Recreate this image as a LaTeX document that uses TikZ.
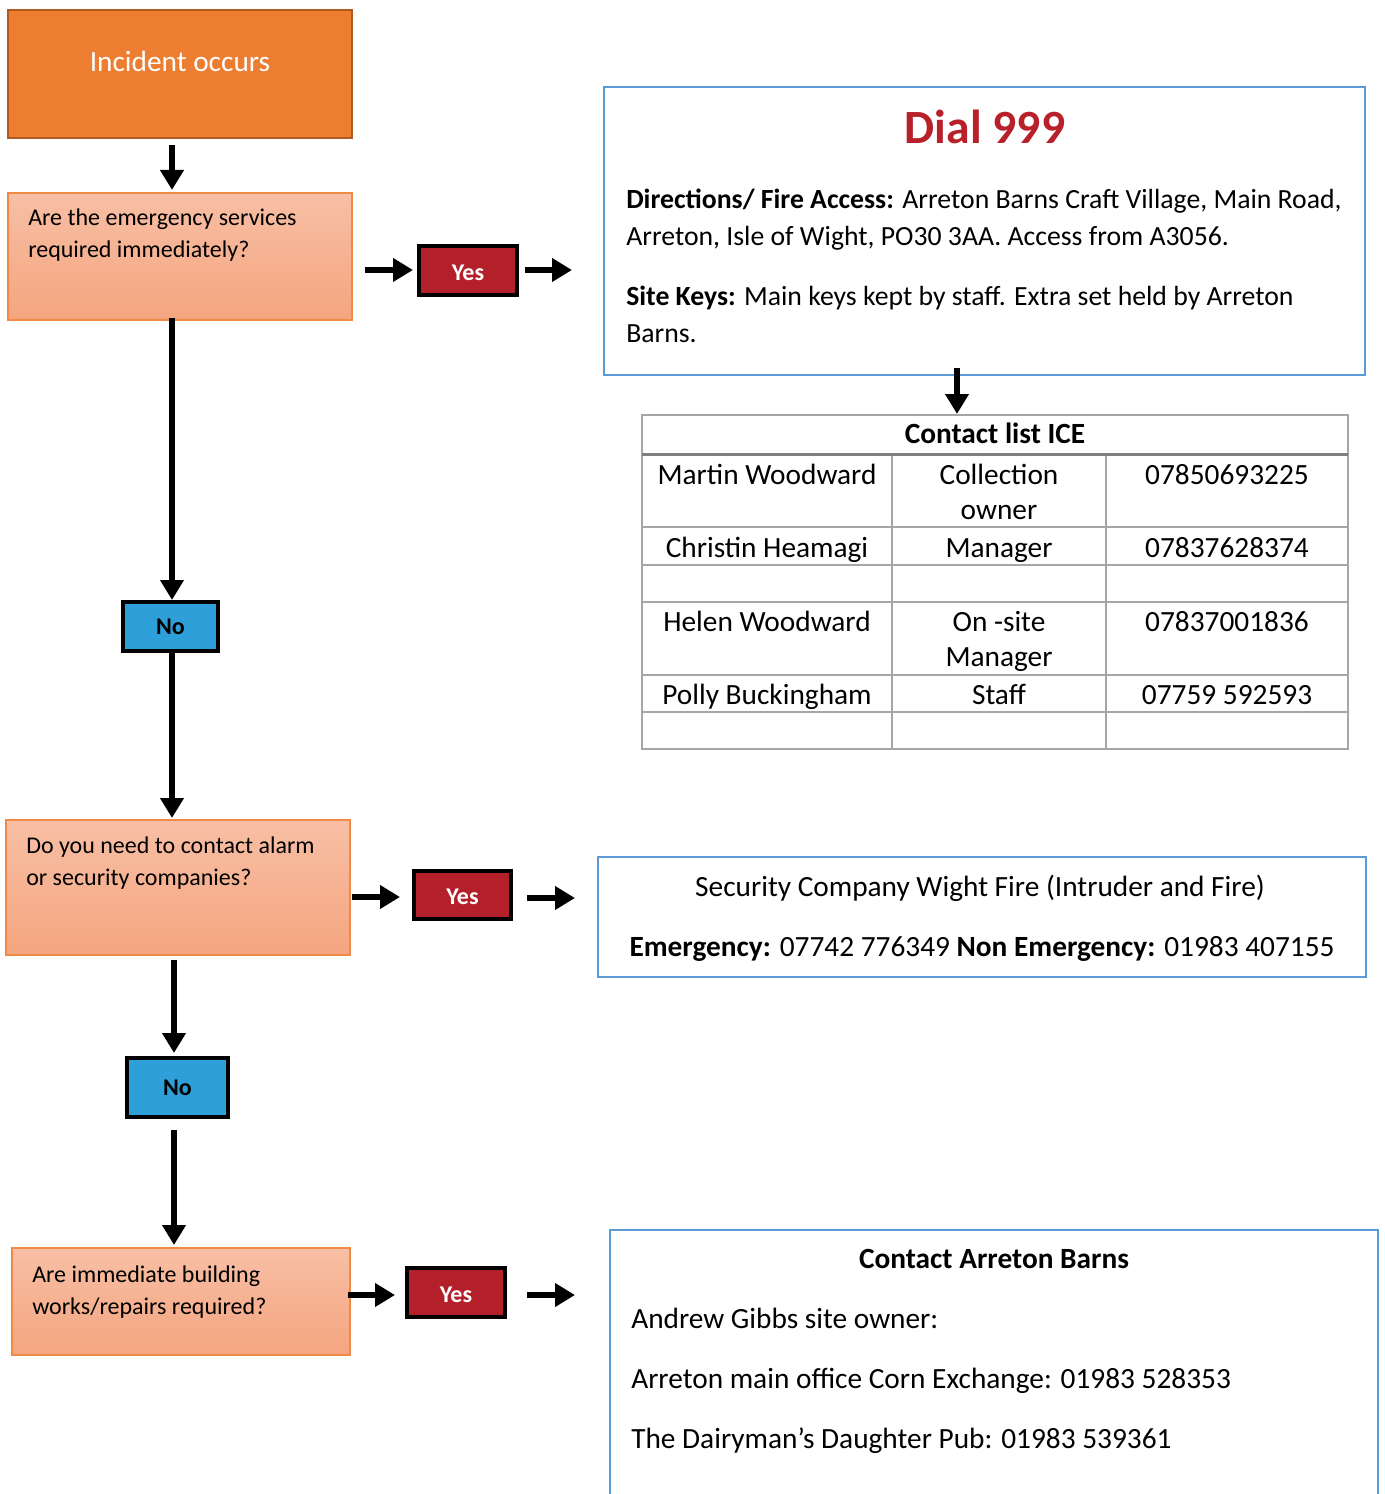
\documentclass[tikz,border=0pt]{standalone}
\usepackage{fontspec}
\setmainfont{Carlito}
\usetikzlibrary{arrows.meta,fit,calc}
\definecolor{incfill}{HTML}{ED7D31}
\definecolor{incdraw}{HTML}{AE5A21}
\definecolor{qtop}{HTML}{F8BFA5}
\definecolor{qbot}{HTML}{F4A57F}
\definecolor{qdraw}{HTML}{F08A46}
\definecolor{yesred}{HTML}{B4202A}
\definecolor{noblue}{HTML}{2E9FD9}
\definecolor{infoblue}{HTML}{5B9BD5}
\definecolor{dialred}{HTML}{B8202A}
\definecolor{tabgray}{HTML}{A6A6A6}
\definecolor{tabdark}{HTML}{7F7F7F}
\begin{document}
\begin{tikzpicture}[x=0.75pt,y=-0.75pt,
  box/.style={inner sep=0pt, outer sep=0pt},
  incbox/.style={box, fill=incfill, draw=incdraw, line width=1.5pt},
  qbox/.style={box, top color=qtop, bottom color=qbot, draw=qdraw, line width=0.8pt},
  yesbox/.style={box, fill=yesred, draw=black, line width=2.3pt},
  nobox/.style={box, fill=noblue, draw=black, line width=2.3pt},
  infobox/.style={box, draw=infoblue, line width=1.6pt},
  qtext/.style={inner sep=0pt, anchor=base west, align=left, font=\fontsize{18pt}{24pt}\selectfont},
  dtext/.style={inner sep=0pt, anchor=base west, align=left, font=\fontsize{20.8pt}{27.75pt}\selectfont},
  ttext/.style={inner sep=0pt, anchor=base, align=center, font=\fontsize{22pt}{26.25pt}\selectfont},
  ctext/.style={inner sep=0pt, anchor=base west, font=\fontsize{22pt}{26pt}\selectfont},
  yntext/.style={font=\bfseries\fontsize{18pt}{22pt}\selectfont},
  arr/.style={line width=5pt, -{Triangle[width=17pt,length=15pt]}},
  tline/.style={draw=tabgray, line width=1.5pt}
]
\useasboundingbox (0,0) rectangle (1384,1494);

% --- left column boxes
\node[incbox, fit={(8,10) (352,138)}] (inc) {};
\node[inner sep=0pt, anchor=base, text=white, font=\fontsize{22pt}{26pt}\selectfont] (inct) at (180,72) {Incident occurs};

\node[qbox, fit={(8,193) (352,320)}] (q1) {};
\node[qtext] (q1t) at (28,258) {Are the emergency services\\required immediately?};

\node[nobox, fit={(123,602) (218,651)}] (no1) {};
\node[yntext] (no1t) at (no1.center) {No};

\node[qbox, fit={(6,820) (350,955)}] (q2) {};
\node[qtext] (q2t) at (26,885) {Do you need to contact alarm\\or security companies?};

\node[nobox, fit={(127,1058) (228,1117)}] (no2) {};
\node[yntext] (no2t) at (no2.center) {No};

\node[qbox, fit={(12,1248) (350,1355)}] (q3) {};
\node[qtext] (q3t) at (32,1314) {Are immediate building\\works/repairs required?};

% --- yes boxes
\node[yesbox, fit={(419,246) (517,295)}] (yes1) {};
\node[yntext, text=white] (yes1t) at ($(yes1.center)+(0,2)$) {Yes};
\node[yesbox, fit={(414,871) (511,919)}] (yes2) {};
\node[yntext, text=white] (yes2t) at ($(yes2.center)+(0,2)$) {Yes};
\node[yesbox, fit={(407,1268) (505,1317)}] (yes3) {};
\node[yntext, text=white] (yes3t) at ($(yes3.center)+(0,2)$) {Yes};

% --- Dial 999 box
\node[infobox, fit={(604,87) (1365,375)}] (dial) {};
\node[inner sep=0pt, anchor=base, text=dialred, font=\bfseries\fontsize{35.8pt}{42pt}\selectfont] (dialt) at (985,144) {Dial 999};
\node[dtext] (dir) at (626,246) {\textbf{Directions/ Fire Access:} Arreton Barns Craft Village, Main Road,\\Arreton, Isle of Wight, PO30 3AA. Access from A3056.};
\node[dtext] (keys) at (626,342) {\textbf{Site Keys:} Main keys kept by staff. Extra set held by Arreton\\Barns.};

% --- table
\node[box, fit={(642,415) (1348,749)}] (tab) {};
\draw[tline] (642,415) rectangle (1348,749);
\draw[draw=tabdark, line width=2.6pt] (642,454.5) -- (1348,454.5);
\foreach \yy in {527,565,602,675,712} \draw[tline] (642,\yy) -- (1348,\yy);
\foreach \xx in {892,1106} \draw[tline] (\xx,456) -- (\xx,749);
\node[ttext, font=\bfseries\fontsize{22pt}{26pt}\selectfont] (th) at (995,443) {Contact list ICE};
\node[ttext] (r1a) at (767,484) {Martin Woodward};
\node[ttext] (r1b) at (999,519) {Collection\\owner};
\node[ttext] (r1c) at (1227,484) {07850693225};
\node[ttext] (r2a) at (767,557) {Christin Heamagi};
\node[ttext] (r2b) at (999,557) {Manager};
\node[ttext] (r2c) at (1227,557) {07837628374};
\node[ttext] (r4a) at (767,631) {Helen Woodward};
\node[ttext] (r4b) at (999,666) {On -site\\Manager};
\node[ttext] (r4c) at (1227,631) {07837001836};
\node[ttext] (r5a) at (767,704) {Polly Buckingham};
\node[ttext] (r5b) at (999,704) {Staff};
\node[ttext] (r5c) at (1227,704) {07759 592593};

% --- security box
\node[infobox, fit={(598,857) (1366,977)}] (sec) {};
\node[inner sep=0pt, anchor=base, font=\fontsize{22pt}{26pt}\selectfont] (sect) at (980,896) {Security Company Wight Fire (Intruder and Fire)};
\node[inner sep=0pt, anchor=base, font=\fontsize{22pt}{26pt}\selectfont] (secn) at (982,956) {\textbf{Emergency:} 07742 776349 \textbf{Non Emergency:} 01983 407155};

% --- contact Arreton box
\node[infobox, fit={(610,1230) (1378,1520)}] (arr) {};
\node[inner sep=0pt, anchor=base, font=\bfseries\fontsize{22pt}{26pt}\selectfont] (arrt) at (994,1268) {Contact Arreton Barns};
\node[ctext] (arr1) at (631,1328) {Andrew Gibbs site owner:};
\node[ctext] (arr2) at (631,1388) {Arreton main office Corn Exchange: 01983 528353};
\node[ctext] (arr3) at (631,1448) {The Dairyman’s Daughter Pub: 01983 539361};

% --- connectors
\draw[arr] ($(inc.south)+(-8,7)$) -- ($(q1.north)+(-8,-3)$);
\draw[arr] ($(q1.south)+(-8,-2)$) -- ($(no1.north)+(1.5,-2)$);
\draw[arr] ($(no1.south)+(1.5,1)$) -- ($(q2.north)+(-6,-2)$);
\draw[arr] ($(q2.south)+(-4,5)$) -- ($(no2.north)+(-3.5,-5)$);
\draw[arr] ($(no2.south)+(-3.5,13)$) -- ($(q3.north)+(-7,-3)$);

\draw[arr] ($(q1.east)+(13,13.5)$) -- ($(yes1.west)+(-6,-0.5)$);
\draw[arr] ($(yes1.east)+(8,-0.5)$) -- ($(dial.west)+(-32,39)$);
\draw[arr] ($(q2.east)+(2,9.5)$) -- ($(yes2.west)+(-14,2)$);
\draw[arr] ($(yes2.east)+(16,3)$) -- ($(sec.west)+(-23,-19)$);
\draw[arr] ($(q3.east)+(-2,-6.5)$) -- ($(yes3.west)+(-12,2.5)$);
\draw[arr] ($(yes3.east)+(22,2.5)$) -- ($(arr.west)+(-35,-80)$);

\draw[arr] ($(dial.south)+(-27.5,-7)$) -- ($(tab.north)+(-38,-1)$);
\end{tikzpicture}
\end{document}
